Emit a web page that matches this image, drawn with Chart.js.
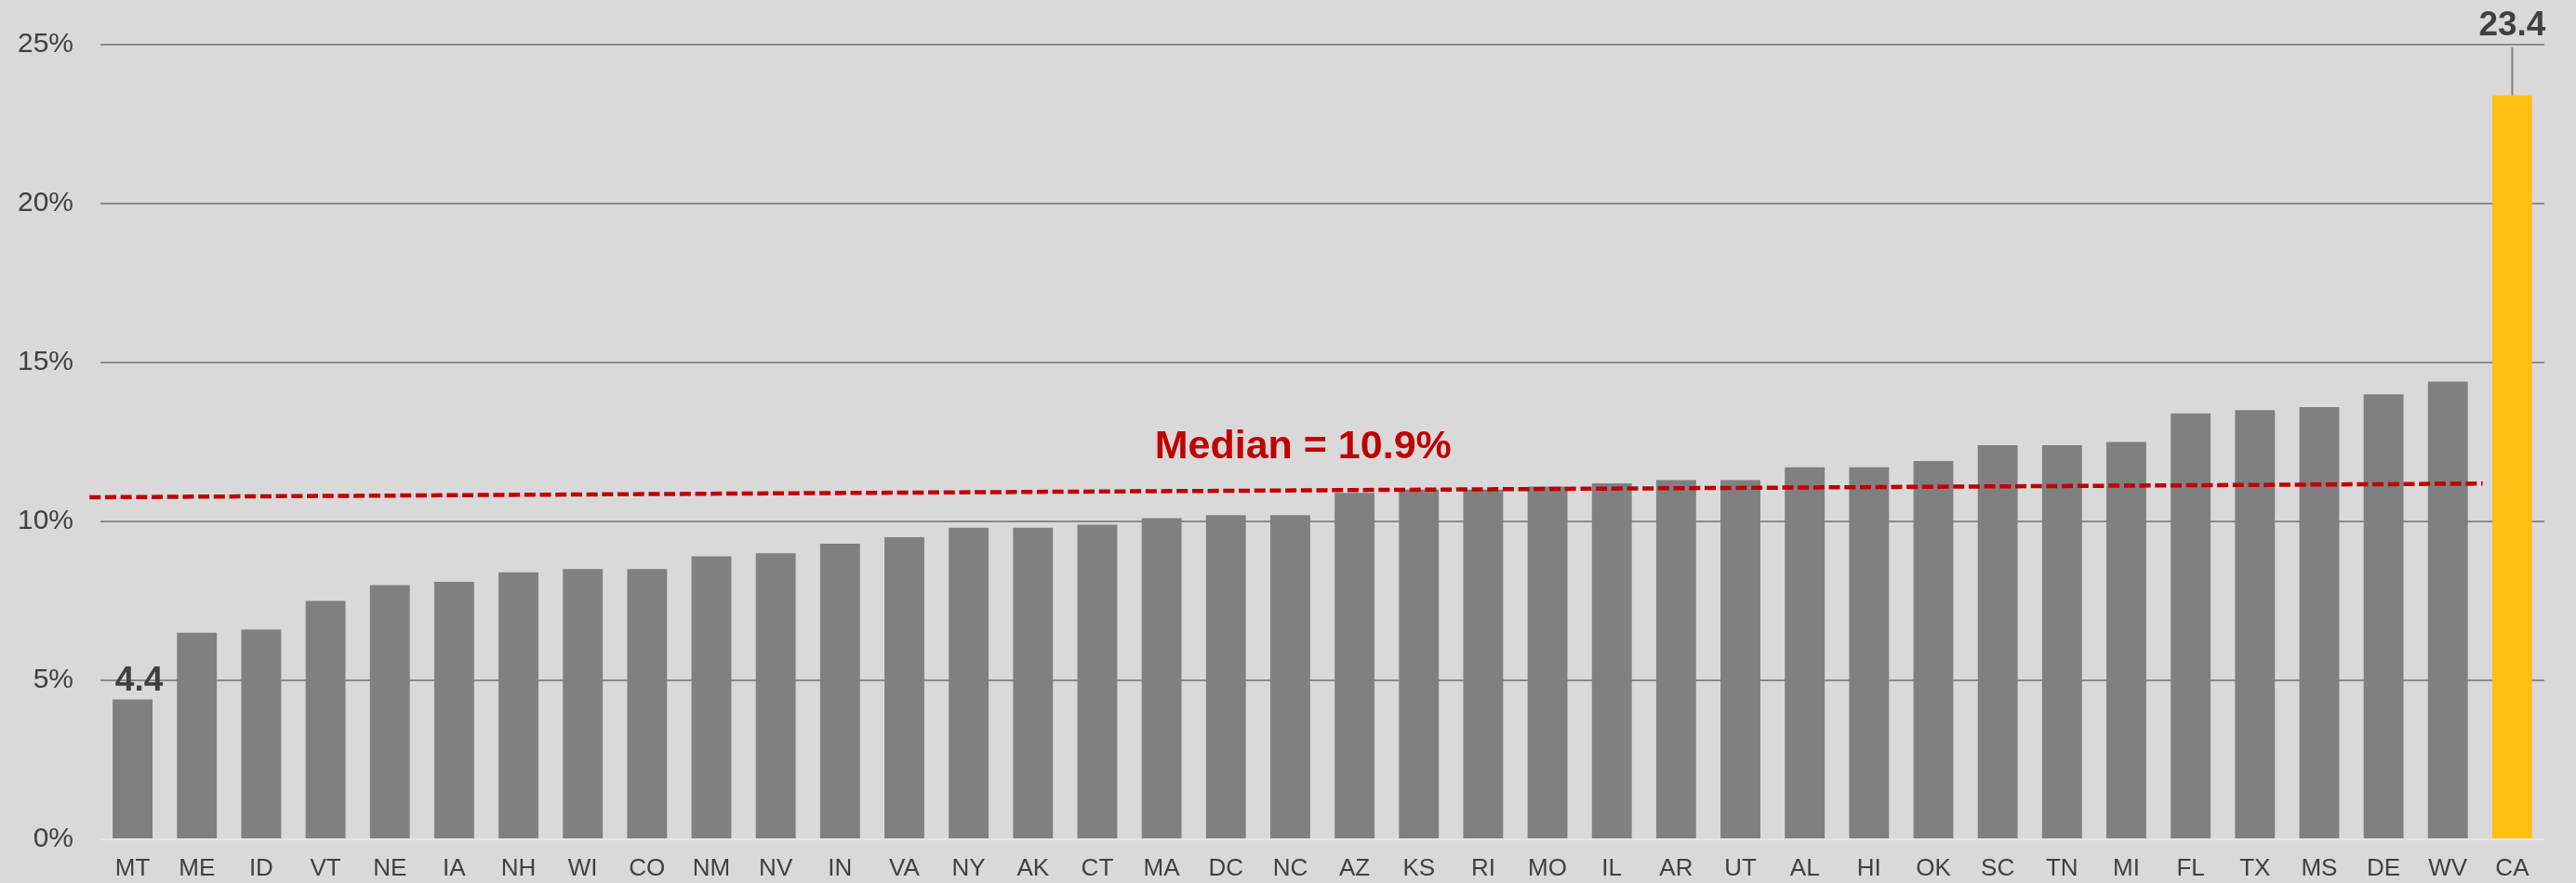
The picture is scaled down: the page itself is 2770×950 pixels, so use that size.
<!DOCTYPE html>
<html>
<head>
<meta charset="utf-8">
<script src="https://cdn.jsdelivr.net/npm/chart.js@4"></script>
<style>
  html, body { margin: 0; padding: 0; background: #d9d9d9; }
  #chart { display: block; }
</style>
</head>
<body>
<canvas id="chart" width="2770" height="950"></canvas>
<script>
// ── Données ──
const states = ['MT','ME','ID','VT','NE','IA','NH','WI','CO','NM','NV','IN','VA','NY','AK','CT','MA','DC','NC',
  'AZ','KS','RI','MO','IL','AR','UT','AL','HI','OK','SC','TN','MI','FL','TX','MS','DE','WV','CA'];
const rates = [4.4, 6.5, 6.6, 7.5, 8.0, 8.1, 8.4, 8.5, 8.5, 8.9, 9.0, 9.3, 9.5, 9.8, 9.8, 9.9, 10.1, 10.2, 10.2,
  10.9, 11.0, 11.0, 11.1, 11.2, 11.3, 11.3, 11.7, 11.7, 11.9, 12.4, 12.4, 12.5, 13.4, 13.5, 13.6, 14.0, 14.4, 23.4];
const highlight = 'CA';
const yTicks = [0, 5, 10, 15, 20, 25];

// ligne médiane (légèrement inclinée dans l'original)
const medianLabel = 'Median = 10.9%';
const medianLine = [{ x: -0.67, y: 10.76 }, { x: 36.54, y: 11.19 }];
const medianTextPos = { x: 18.2, y: 12.0 };

const FONT = "'Liberation Sans', Arial, sans-serif";
const GREY = '#808080';
const YELLOW = '#fdbf12';
const RED = '#c00000';
const TEXT = '#404040';

const barColors = states.map(s => s === highlight ? YELLOW : GREY);

// indices des valeurs extrêmes à étiqueter
const minIdx = rates.indexOf(Math.min(...rates));
const maxIdx = rates.indexOf(Math.max(...rates));

const annotations = {
  id: 'annotations',
  afterDatasetsDraw(chart) {
    const { ctx, scales } = chart;
    const x = scales.x, y = scales.y, xl = scales.xl;
    ctx.save();

    // étiquette min
    ctx.fillStyle = TEXT;
    ctx.font = `bold 37px ${FONT}`;
    ctx.textAlign = 'center';
    ctx.textBaseline = 'alphabetic';
    ctx.fillText(rates[minIdx].toFixed(1), x.getPixelForValue(minIdx) + 7, y.getPixelForValue(rates[minIdx]) - 10);

    // étiquette max + trait de rappel
    const cx = x.getPixelForValue(maxIdx);
    ctx.fillText(rates[maxIdx].toFixed(1), cx, y.top - 10);
    ctx.strokeStyle = GREY;
    ctx.lineWidth = 2;
    ctx.beginPath();
    ctx.moveTo(cx, y.top + 3);
    ctx.lineTo(cx, y.getPixelForValue(rates[maxIdx]));
    ctx.stroke();

    // texte médiane
    ctx.fillStyle = RED;
    ctx.font = `bold 43px ${FONT}`;
    ctx.fillText(medianLabel, xl.getPixelForValue(medianTextPos.x), y.getPixelForValue(medianTextPos.y));

    ctx.restore();
  }
};

new Chart(document.getElementById('chart'), {
  data: {
    labels: states,
    datasets: [
      {
        type: 'bar',
        data: rates,
        backgroundColor: barColors,
        borderWidth: 0,
        grouped: false,
        barPercentage: 0.62,
        categoryPercentage: 1.0,
        order: 1
      },
      {
        type: 'line',
        xAxisID: 'xl',
        data: medianLine,
        borderColor: RED,
        borderWidth: 4.5,
        borderDash: [12, 4.7],
        pointRadius: 0,
        fill: false,
        clip: false,
        order: 0
      }
    ]
  },
  options: {
    responsive: false,
    animation: false,
    layout: { padding: { top: 48, right: 34, left: 0, bottom: 0 } },
    plugins: {
      legend: { display: false },
      tooltip: { enabled: false }
    },
    scales: {
      x: {
        type: 'category',
        offset: true,
        afterFit: s => { s.height = 47; },
        grid: { display: false },
        border: { display: false },
        ticks: { color: TEXT, font: { family: FONT, size: 26 }, padding: 8, maxRotation: 0, autoSkip: false }
      },
      xl: {
        type: 'linear',
        display: false,
        min: -0.5,
        max: states.length - 0.5
      },
      y: {
        min: 0,
        max: 25,
        afterFit: s => { s.width = 108; },
        afterBuildTicks: s => { s.ticks = yTicks.map(v => ({ value: v })); },
        border: { display: false },
        grid: {
          drawTicks: false,
          lineWidth: 2,
          color: c => c.tick && c.tick.value === 0 ? '#e6e6e6' : '#8a8a8a'
        },
        ticks: {
          color: TEXT,
          font: { family: FONT, size: 30 },
          padding: 29,
          callback: v => v + '%'
        }
      }
    }
  },
  plugins: [annotations]
});
</script>
</body>
</html>
